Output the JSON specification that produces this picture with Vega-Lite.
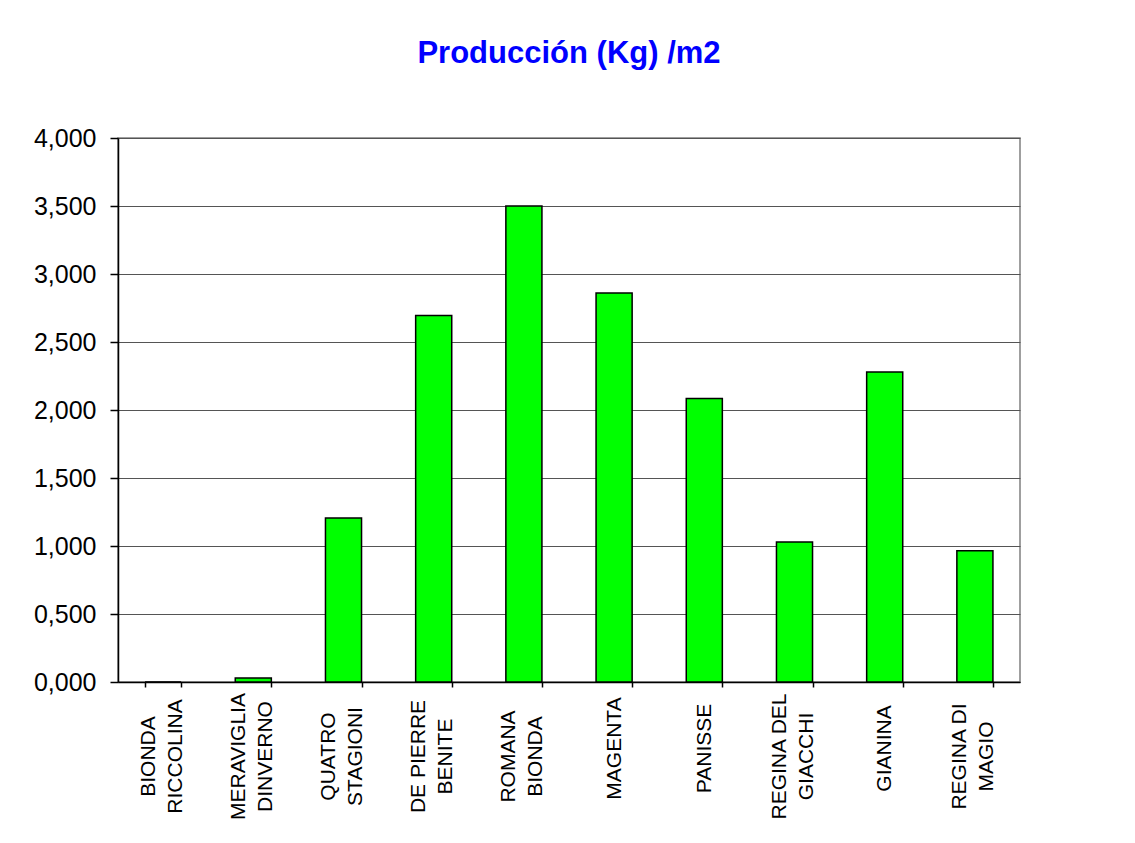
{
  "$schema": "https://vega.github.io/schema/vega-lite/v6.json",
  "autosize": "none",
  "width": 902,
  "height": 544,
  "padding": {"left": 118, "top": 138, "right": 115, "bottom": 161},
  "background": "white",
  "title": {
    "text": "Producción (Kg) /m2",
    "font": "Liberation Sans",
    "fontSize": 31,
    "fontWeight": "bold",
    "color": "#0000FF",
    "anchor": "middle",
    "frame": "group",
    "baseline": "alphabetic",
    "offset": 32
  },
  "config": {
    "view": {"stroke": "#808080", "strokeWidth": 1.5},
    "axis": {"labelFont": "Liberation Sans", "labelColor": "#000", "domainColor": "#000", "tickColor": "#000"}
  },
  "data": {
    "values": [
      {"variedad": "BIONDA|RICCOLINA", "produccion": 0},
      {"variedad": "MERAVIGLIA|DINVERNO", "produccion": 0.03},
      {"variedad": "QUATRO|STAGIONI", "produccion": 1.205},
      {"variedad": "DE PIERRE|BENITE", "produccion": 2.695},
      {"variedad": "ROMANA|BIONDA", "produccion": 3.5},
      {"variedad": "MAGENTA", "produccion": 2.86},
      {"variedad": "PANISSE", "produccion": 2.085},
      {"variedad": "REGINA DEL|GIACCHI", "produccion": 1.03},
      {"variedad": "GIANINA", "produccion": 2.28},
      {"variedad": "REGINA DI|MAGIO", "produccion": 0.965}
    ]
  },
  "mark": {"type": "bar", "fill": "#00FF00", "stroke": "#000", "strokeWidth": 1.5},
  "encoding": {
    "x": {
      "field": "variedad",
      "type": "nominal",
      "sort": null,
      "title": null,
      "scale": {"paddingInner": 0.6, "paddingOuter": 0.3},
      "axis": {
        "labelAngle": -90,
        "labelAlign": "center",
        "labelBaseline": "middle",
        "labelFontSize": 21,
        "labelLineHeight": 27,
        "labelPadding": {"expr": "indexof(datum.label, '|') >= 0 ? 69 : 61"},
        "labelOverlap": false,
        "labelExpr": "split(datum.label, '|')",
        "labelOffset": {"expr": "indexof(datum.label, '|') >= 0 ? -15 : 0"},
        "tickSize": 5,
        "tickBand": "extent",
        "domainWidth": 1.5,
        "tickWidth": 1.5
      }
    },
    "y": {
      "field": "produccion",
      "type": "quantitative",
      "title": null,
      "scale": {"domain": [0, 4], "nice": false},
      "axis": {
        "values": [0, 0.5, 1, 1.5, 2, 2.5, 3, 3.5, 4],
        "labelExpr": "replace(format(datum.value, '.3f'), '.', ',')",
        "labelFontSize": 25,
        "labelPadding": 14,
        "tickSize": 8,
        "grid": true,
        "gridColor": "#555",
        "gridWidth": 1,
        "domainWidth": 1.5,
        "tickWidth": 1.5
      }
    }
  }
}
